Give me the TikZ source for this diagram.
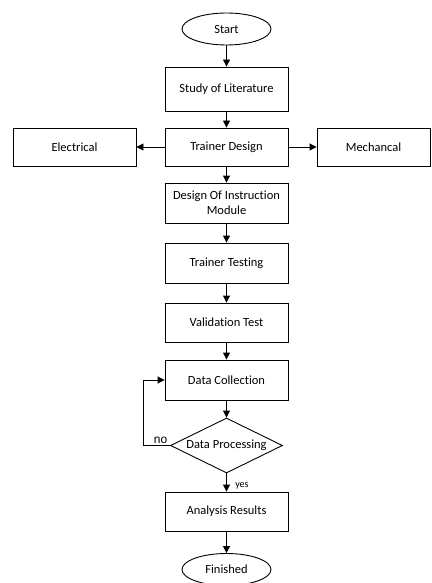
\documentclass[tikz,border=0pt]{standalone}
\usepackage{fontspec}
\setmainfont[Ligatures={NoCommon}]{Carlito}
\newfontfamily\arialfont{Liberation Sans}
\usetikzlibrary{shapes.geometric,arrows.meta}
\begin{document}
\begin{tikzpicture}[x=1pt,y=-1pt,
  font=\fontsize{12.5}{15}\selectfont,
  box/.style={draw,line width=0.9pt,minimum width=123pt,inner sep=0pt,align=center},
  term/.style={draw,ellipse,line width=0.9pt,minimum width=89pt,minimum height=32pt,inner sep=0pt},
  dec/.style={draw,diamond,line width=0.9pt,minimum width=112pt,minimum height=55pt,inner sep=0pt,aspect=2},
  arr/.style={line width=0.9pt,-{Triangle[length=7pt,width=7pt]}}]
\useasboundingbox (0,0) rectangle (431,583);
\node[term] (start) at (226.5,29) {Start};
\node[box,minimum height=44pt] (lit) at (226.5,89) {Study of Literature};
\node[box,minimum height=38pt] (td) at (226.5,147) {Trainer Design};
\node[box,minimum height=38pt] (el) at (74.5,147) {Electrical};
\node[box,minimum height=38pt,minimum width=113pt] (me) at (373.5,147) {Mechancal};
\node[box,minimum height=40pt] (dim) at (226.5,203) {Design Of Instruction\\Module};
\node[box,minimum height=40pt] (tt) at (226.5,263) {Trainer Testing};
\node[box,minimum height=39pt] (vt) at (226.5,322.5) {Validation Test};
\node[box,minimum height=40pt] (dc) at (226.5,380) {Data Collection};
\node[dec] (dp) at (226.5,445.5) {Data Processing};
\node[box,minimum height=39pt] (ar) at (226.5,511.5) {Analysis Results};
\node[term] (fin) at (226.5,569.5) {Finished};
\coordinate (lb) at (143,445.5);
\coordinate (lt) at (143,380);
\draw[arr] (start) -- (lit);
\draw[arr] (lit) -- (td);
\draw[arr] (td) -- (el);
\draw[arr] (td) -- (me);
\draw[arr] (td) -- (dim);
\draw[arr] (dim) -- (tt);
\draw[arr] (tt) -- (vt);
\draw[arr] (vt) -- (dc);
\draw[arr] (dc) -- (dp);
\draw[arr] (dp) -- node[right,font=\fontsize{10}{12}\selectfont,xshift=5pt,yshift=-3pt]{yes} (ar);
\draw[arr] (ar) -- (fin);
\draw[arr] (dp.west) -- (lb) -- (lt) -- (dc.west);
\node[font=\arialfont\fontsize{12}{14}\selectfont,anchor=base] (no) at (160.5,443) {no};
\end{tikzpicture}
\end{document}
